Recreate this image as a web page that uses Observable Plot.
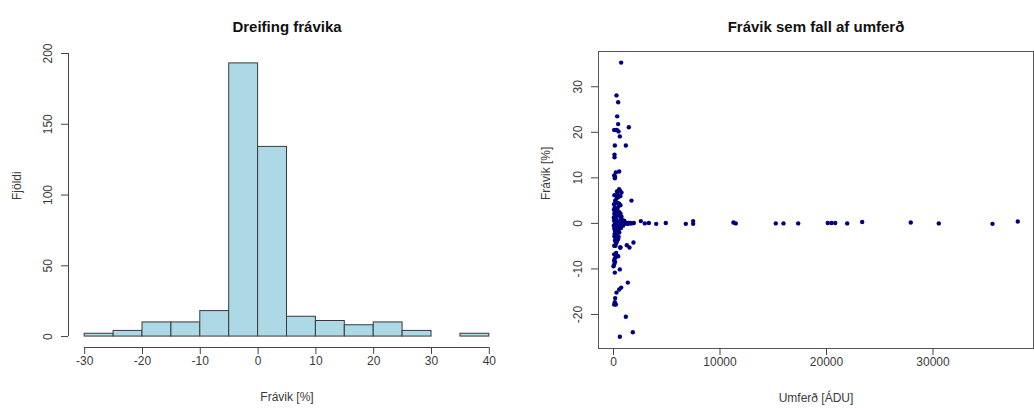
<!DOCTYPE html>
<html>
<head>
<meta charset="utf-8">
<script src="https://cdn.jsdelivr.net/npm/d3@7"></script>
<script src="https://cdn.jsdelivr.net/npm/@observablehq/plot@0.6"></script>
<style>
  html, body { margin: 0; padding: 0; background: #fff; }
  #wrap { display: flex; width: 1034px; height: 410px; }
  #wrap svg { display: block; }
</style>
</head>
<body>
<div id="wrap"></div>
<script>
// ---- Histogram data ----
const histTitle = "Dreifing frávika";
const histXLabel = "Frávik [%]";
const histYLabel = "Fjöldi";
const histBreaks = [-30, -25, -20, -15, -10, -5, 0, 5, 10, 15, 20, 25, 30, 35, 40];
const histCounts = [2, 4, 10, 10, 18, 193, 134, 14, 11, 8, 10, 4, 0, 2];
const histXTicks = [-30, -20, -10, 0, 10, 20, 30, 40];
const histYTicks = [0, 50, 100, 150, 200];

// ---- Scatter data ----
const scatterTitle = "Frávik sem fall af umferð";
const scatterXLabel = "Umferð [ÁDU]";
const scatterYLabel = "Frávik [%]";
const scatterXTicks = [0, 10000, 20000, 30000];
const scatterYTicks = [-20, -10, 0, 10, 20, 30];
const trafficADU = [
  720, 282, 438, 344, 438, 66, 313, 470, 1440, 595,
  125, 1158, 94, 94, 66, 125, 532, 220, 150, 750,
  532, 376, 1690, 532, 600, 450, 300, 650, 210, 160,
  90, 330, 400, 480, 650, 50, 120, 380, 40, 200,
  520, 350, 650, 80, 400, 600, 150, 750, 30, 680,
  250, 130, 800, 60, 1000, 420, 700, 180, 600, 300,
  500, 550, 760, 820, 880, 950, 1020, 1100, 1180, 1250,
  1330, 1420, 1520, 1600, 1690, 1910, 2566, 2940, 3320, 4006,
  4910, 6790, 7480, 7480, 11260, 11480, 15240, 15962, 17343, 20122,
  20469, 20817, 21944, 23352, 27915, 30545, 35587, 37962,
  650, 100, 450, 900, 30, 220, 560, 380, 700, 70,
  460, 160, 300, 540, 260, 110, 350, 90, 480, 190,
  420, 140, 320, 250,
  66, 626, 1252, 1502, 1877, 66, 220, 438, 66, 3,
  595, 125, 720, 532, 282, 1345, 156, 125, 220, 66,
  1158, 1815, 595, 100, 150, 60, 250, 188, 657
];
const deviationPct = [
  35.3, 28.1, 26.6, 23.5, 21.8, 20.5, 20.5, 20.2, 21.1, 19.1,
  17.1, 17.1, 15.1, 14.5, 10.5, 9.9, 11.4, 11.2, 10.2, 6.8,
  7.5, 6.4, 5.0, 4.3, 7.2, 5.8, 5.5, 6.0, 4.7, 5.0,
  6.2, 7.0, 4.5, 3.8, 4.0, 4.2, 3.5, 3.2, 3.0, 2.8,
  2.5, 2.4, 2.2, 2.1, 1.8, 1.7, 1.5, 1.5, 1.3, 1.2,
  1.0, 0.9, 0.8, 0.6, 0.6, 0.5, 0.4, 0.3, 0.3, 0.1,
  0.2, 0.1, 0.1, 0.0, 0.2, 0.1, -0.1, 0.2, 0.0, 0.1,
  -0.1, 0.1, 0.0, 0.1, 0.0, 0.1, 0.5, 0.0, 0.1, -0.1,
  0.1, -0.1, 0.5, -0.1, 0.2, 0.0, 0.0, 0.0, 0.0, 0.1,
  0.1, 0.1, 0.0, 0.3, 0.2, 0.0, -0.1, 0.4,
  -0.2, -0.3, -0.4, -0.5, -0.5, -0.8, -0.8, -1.0, -1.0, -1.2,
  -1.5, -1.7, -1.8, -2.0, -2.2, -2.3, -2.7, -2.8, -3.0, -3.3,
  -3.5, -3.8, -4.0, -4.3,
  -4.9, -5.3, -4.8, -5.3, -4.2, -6.8, -7.4, -7.2, -9.0, -9.4,
  -10.1, -10.8, -14.1, -14.5, -15.2, -13.0, -16.4, -17.3, -17.8, -17.8,
  -20.5, -23.9, -24.9, -7.8, -8.5, -8.2, -6.5, -4.9, -5.3
];

// ---- Build tables ----
const histTable = histCounts.map((c, i) => ({x1: histBreaks[i], x2: histBreaks[i + 1], count: c}));
const scatterTable = trafficADU.map((x, i) => ({x, y: deviationPct[i]}));

const fmt = d => String(d);
const baseStyle = {
  fontFamily: "'Liberation Sans', Arial, Helvetica, sans-serif",
  fontSize: "12px",
  color: "#3a3a3a",
  background: "#fff",
  overflow: "visible"
};

const histXDomain = [-32.8, 42.8];
const histYDomain = [-7.72, 200.7];

const left = Plot.plot({
  width: 517,
  height: 410,
  marginLeft: 68,
  marginRight: 12,
  marginTop: 52,
  marginBottom: 63,
  x: {domain: histXDomain},
  y: {domain: histYDomain},
  style: baseStyle,
  marks: [
    Plot.rectY(histTable, {x1: "x1", x2: "x2", y1: 0, y2: "count", fill: "#ADD8E6", stroke: "#3a3a3a", strokeWidth: 1}),
    Plot.ruleX([histXDomain[0]], {y1: histYTicks[0], y2: histYTicks[histYTicks.length - 1], stroke: "#444"}),
    Plot.ruleY([histYDomain[0]], {x1: histXTicks[0], x2: histXTicks[histXTicks.length - 1], stroke: "#444"}),
    Plot.axisY(histYTicks, {tickSize: 7, tickPadding: 10, tickRotate: -90, tickFormat: fmt, label: null, stroke: "#444"}),
    Plot.axisX(histXTicks, {tickSize: 7, tickPadding: 2, tickFormat: fmt, label: null, stroke: "#444"}),
    Plot.text([histTitle], {text: d => d, frameAnchor: "top", dy: -31, fontWeight: "bold", fontSize: 15, fill: "#111"}),
    Plot.text([histXLabel], {text: d => d, frameAnchor: "bottom", dy: 53, fill: "#3a3a3a"}),
    Plot.text([histYLabel], {text: d => d, frameAnchor: "left", dx: -51, rotate: -90, fill: "#3a3a3a"})
  ]
});

const right = Plot.plot({
  width: 517,
  height: 410,
  marginLeft: 81,
  marginRight: 1,
  marginTop: 51,
  marginBottom: 62,
  x: {domain: [-1408, 39437]},
  y: {domain: [-27.47, 37.74]},
  style: baseStyle,
  marks: [
    Plot.frame({stroke: "#555"}),
    Plot.dot(scatterTable, {x: "x", y: "y", r: 2.2, fill: "#00007F", stroke: "none"}),
    Plot.axisY(scatterYTicks, {tickSize: 7, tickPadding: 10, tickRotate: -90, tickFormat: fmt, label: null, stroke: "#444"}),
    Plot.axisX(scatterXTicks, {tickSize: 7, tickPadding: 2, tickFormat: fmt, label: null, stroke: "#444"}),
    Plot.text([scatterTitle], {text: d => d, frameAnchor: "top", dy: -30, fontWeight: "bold", fontSize: 15, fill: "#111"}),
    Plot.text([scatterXLabel], {text: d => d, frameAnchor: "bottom", dy: 53, fill: "#3a3a3a"}),
    Plot.text([scatterYLabel], {text: d => d, frameAnchor: "left", dx: -52, rotate: -90, fill: "#3a3a3a"})
  ]
});

document.getElementById("wrap").append(left, right);
</script>
</body>
</html>
